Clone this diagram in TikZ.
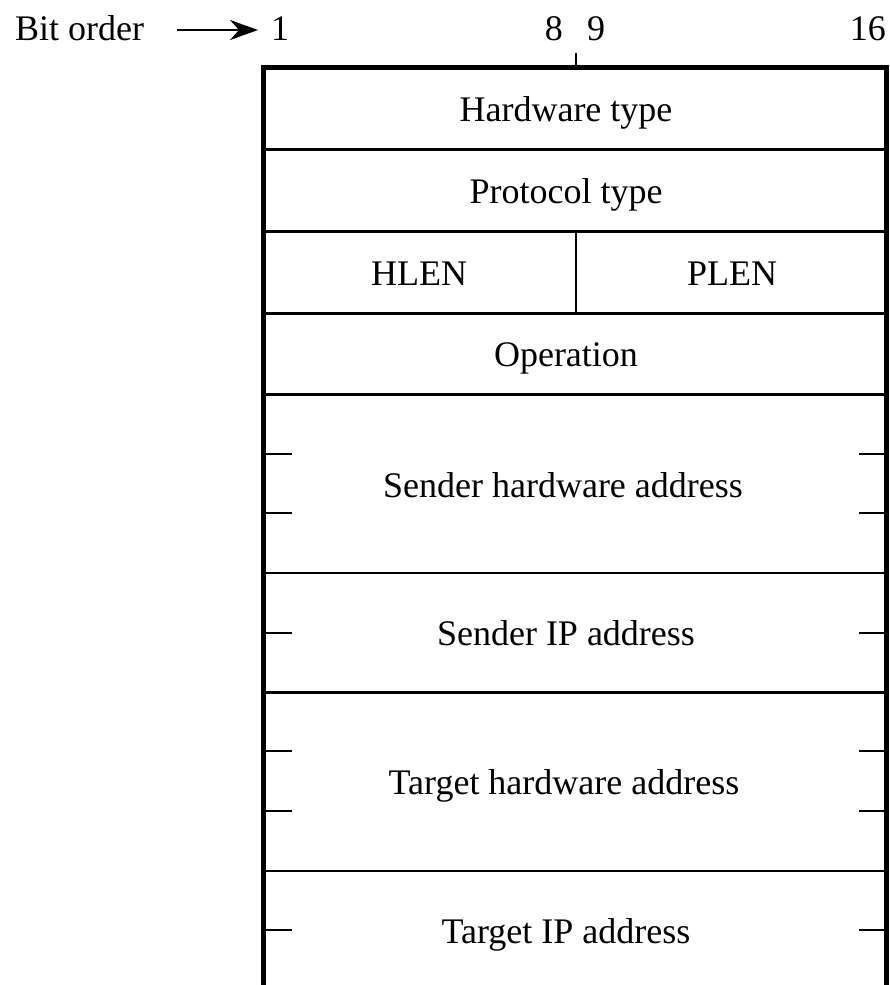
\documentclass[tikz,border=0pt]{standalone}
\usepackage{fontspec}
\setmainfont{Liberation Serif}
\usetikzlibrary{positioning, arrows.meta}

\begin{document}
\begin{tikzpicture}[
  x=1pt, y=-1pt,
  font=\fontsize{36}{43}\selectfont,
  frame/.style={draw, line width=5pt, line join=miter},
  rowline/.style={draw, line width=3pt},
  thinline/.style={draw, line width=1.5pt},
  tickthick/.style={draw, line width=2.6pt},
  tickthin/.style={draw, line width=1.5pt},
  field/.style={anchor=base, inner sep=0pt},
  bitnum/.style={inner sep=0pt},
  bitarrow/.style={-{Stealth[length=28pt, width=20pt, inset=9pt]}, line width=2pt},
]
\useasboundingbox (0,0) rectangle (890,985);

% header: bit positions
\node[bitnum, anchor=base west] (bitorder) at (15,40) {Bit order};
\node[bitnum, anchor=base west] (bitone) at (271,40) {1};
\node[bitnum, anchor=base east] (biteight) at (563,40) {8};
\node[bitnum, anchor=base west] (bitnine) at (587,40) {9};
\node[bitnum, anchor=base east] (bitsixteen) at (886,40) {16};
\draw[bitarrow] ([xshift=33pt, yshift=10pt]bitorder.base east)
  -- ([xshift=-13pt, yshift=10pt]bitone.base west);

% outer frame, open at the bottom
\draw[frame] (263.5,985) -- (263.5,67) -- (886.5,67) -- (886.5,985);
\draw[thinline] (576,53) -- (576,67);

% row boundaries
\draw[rowline] (263.5,149) -- (886.5,149);
\draw[rowline] (263.5,231) -- (886.5,231);
\draw[rowline] (263.5,313) -- (886.5,313);
\draw[rowline] (263.5,394) -- (886.5,394);
\draw[thinline] (263.5,573) -- (886.5,573);
\draw[rowline] (263.5,692) -- (886.5,692);
\draw[thinline] (263.5,871) -- (886.5,871);
\draw[thinline] (576,231) -- (576,313);

% 16-bit word ticks inside the long fields
\draw[tickthick] (263.5,454) -- (292,454);
\draw[tickthick] (859,454) -- (886.5,454);
\draw[tickthin] (263.5,513) -- (292,513);
\draw[tickthin] (859,513) -- (886.5,513);
\draw[tickthin] (263.5,633) -- (292,633);
\draw[tickthin] (859,633) -- (886.5,633);
\draw[tickthin] (263.5,751) -- (292,751);
\draw[tickthin] (859,751) -- (886.5,751);
\draw[tickthin] (263.5,811) -- (292,811);
\draw[tickthin] (859,811) -- (886.5,811);
\draw[tickthick] (263.5,930) -- (292,930);
\draw[tickthick] (859,930) -- (886.5,930);

% field names
\node[field] (hwtype) at (566,121) {Hardware type};
\node[field] (prototype) at (566,203) {Protocol type};
\node[field] (hlen) at (419,285) {HLEN};
\node[field] (plen) at (732,285) {PLEN};
\node[field] (oper) at (566,366) {Operation};
\node[field] (sha) at (563,497) {Sender hardware address};
\node[field] (spa) at (566,645) {Sender IP address};
\node[field] (tha) at (564,794) {Target hardware address};
\node[field] (tpa) at (566,943) {Target IP address};

\end{tikzpicture}
\end{document}
